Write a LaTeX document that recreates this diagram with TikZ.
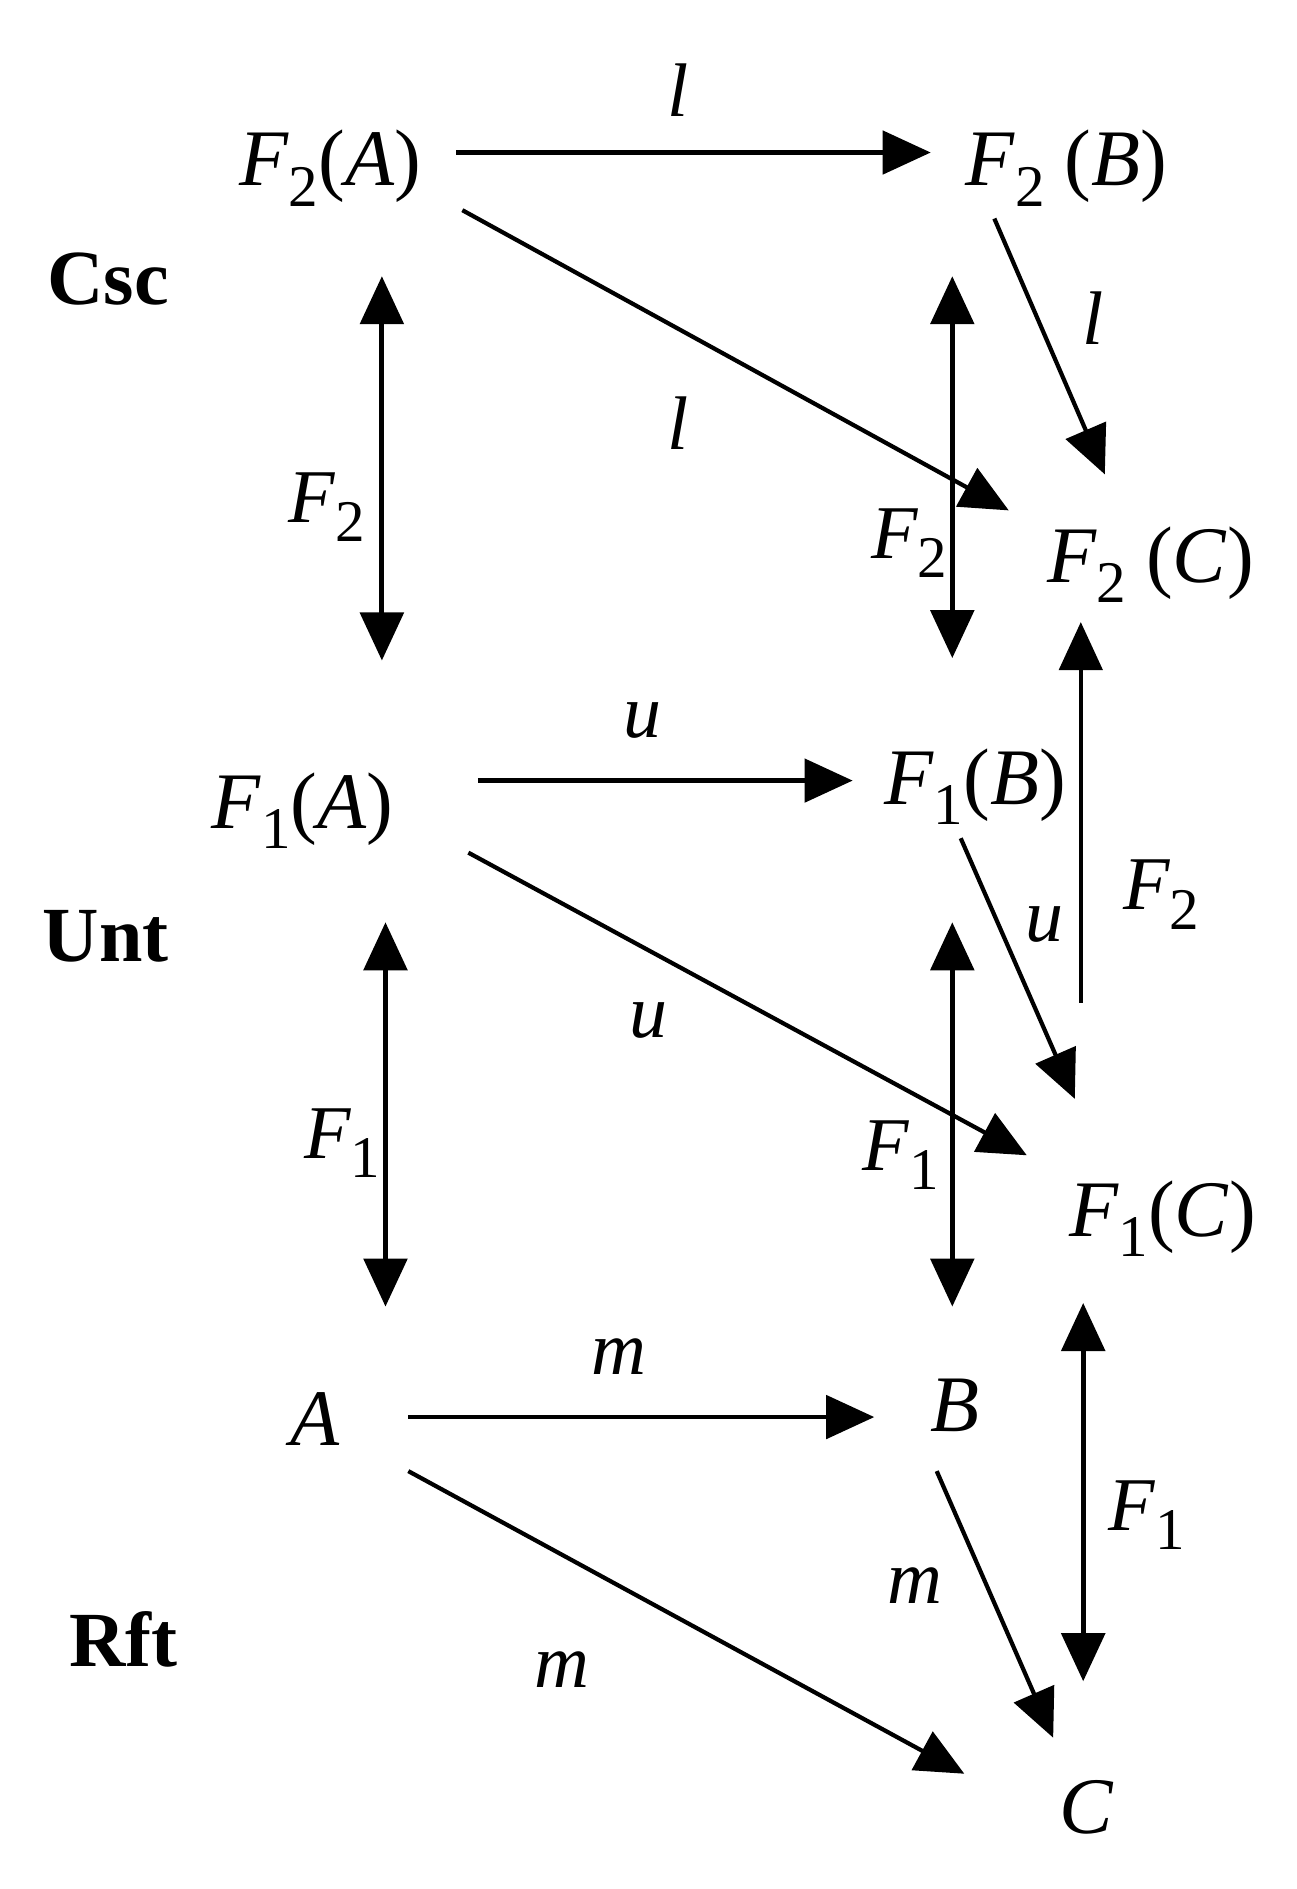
\documentclass[tikz,border=0pt]{standalone}
\usepackage{fontspec}
\setmainfont{Liberation Serif}
\usetikzlibrary{arrows.meta}
\newcommand{\lsb}[1]{\raisebox{-0.55ex}{\fontsize{28}{28}\selectfont\upshape #1}}
\newcommand{\Fx}[2]{\textit{F}\lsb{#1}(\textit{#2})}
\begin{document}
\begin{tikzpicture}[x=0.02cm,y=-0.02cm,
  lbl/.style={font=\fontsize{36}{42}\selectfont\itshape, inner sep=0pt},
  obj/.style={font=\fontsize{38}{44}\selectfont, inner sep=0pt},
  row/.style={font=\fontsize{37}{44}\selectfont\bfseries, inner sep=0pt},
  ar/.style={line width=2pt, -{Triangle[length=0.8cm,width=0.72cm]}},
  dar/.style={line width=2.4pt, {Triangle[length=0.8cm,width=0.72cm]}-{Triangle[length=0.8cm,width=0.72cm]}}]
\useasboundingbox (0,0) rectangle (1080,1573);
% objects
\node[obj] (f2a) at (275,140) {\Fx{2}{A}};
\node[obj] (f2b) at (888,140) {\textit{F}\lsb{2} (\textit{B})};
\node[obj] (f2c) at (958,470) {\textit{F}\lsb{2} (\textit{C})};
\node[obj] (f1a) at (252,675) {\Fx{1}{A}};
\node[obj] (f1b) at (812,655) {\Fx{1}{B}};
\node[obj] (f1c) at (968,1015) {\Fx{1}{C}};
\node[obj] (a) at (262,1182) {\textit{A}};
\node[obj] (b) at (795,1170) {\textit{B}};
\node[obj] (c) at (905,1505) {\textit{C}};
\node[row] (csc) at (90,232) {Csc};
\node[row] (unt) at (88,780) {Unt};
\node[row] (rft) at (103,1365) {Rft};
% endpoints
\coordinate (p1) at (380,127); \coordinate (q1) at (775,127);
\coordinate (p2) at (385,175); \coordinate (q2) at (840,425);
\coordinate (p3) at (828,182); \coordinate (q3) at (920,395);
\coordinate (p4) at (318,230); \coordinate (q4) at (318,550);
\coordinate (p5) at (793,230); \coordinate (q5) at (793,548);
\coordinate (p6) at (398,650); \coordinate (q6) at (710,650);
\coordinate (p7) at (390,710); \coordinate (q7) at (855,962);
\coordinate (p8) at (800,698); \coordinate (q8) at (895,915);
\coordinate (p9) at (900,835); \coordinate (q9) at (900,518);
\coordinate (p10) at (321,768); \coordinate (q10) at (321,1088);
\coordinate (p11) at (793,768); \coordinate (q11) at (793,1088);
\coordinate (p12) at (340,1180); \coordinate (q12) at (728,1180);
\coordinate (p13) at (340,1225); \coordinate (q13) at (803,1477);
\coordinate (p14) at (780,1225); \coordinate (q14) at (877,1447);
\coordinate (p15) at (902,1085); \coordinate (q15) at (902,1400);
\draw[ar] (p1) -- (q1);
\draw[ar] (p2) -- (q2);
\draw[ar] (p3) -- (q3);
\draw[dar] (p4) -- (q4);
\draw[dar] (p5) -- (q5);
\draw[ar] (p6) -- (q6);
\draw[ar] (p7) -- (q7);
\draw[ar] (p8) -- (q8);
\draw[ar] (p9) -- (q9);
\draw[dar] (p10) -- (q10);
\draw[dar] (p11) -- (q11);
\draw[ar] (p12) -- (q12);
\draw[ar] (p13) -- (q13);
\draw[ar] (p14) -- (q14);
\draw[dar] (p15) -- (q15);
% labels
\node[lbl] (l1) at (565,75) {l};
\node[lbl] (l2) at (565,352) {l};
\node[lbl] (l3) at (910,265) {l};
\node[lbl] (l4) at (272,422) {F\lsb{2}};
\node[lbl] (l5) at (757,452) {F\lsb{2}};
\node[lbl] (l6) at (535,600) {u};
\node[lbl] (l7) at (540,850) {u};
\node[lbl] (l8) at (870,770) {u};
\node[lbl] (l9) at (967,745) {F\lsb{2}};
\node[lbl] (l10) at (285,952) {F\lsb{1}};
\node[lbl] (l11) at (750,962) {F\lsb{1}};
\node[lbl] (l12) at (515,1130) {m};
\node[lbl] (l13) at (468,1390) {m};
\node[lbl] (l14) at (762,1320) {m};
\node[lbl] (l15) at (955,1262) {F\lsb{1}};
\end{tikzpicture}
\end{document}
